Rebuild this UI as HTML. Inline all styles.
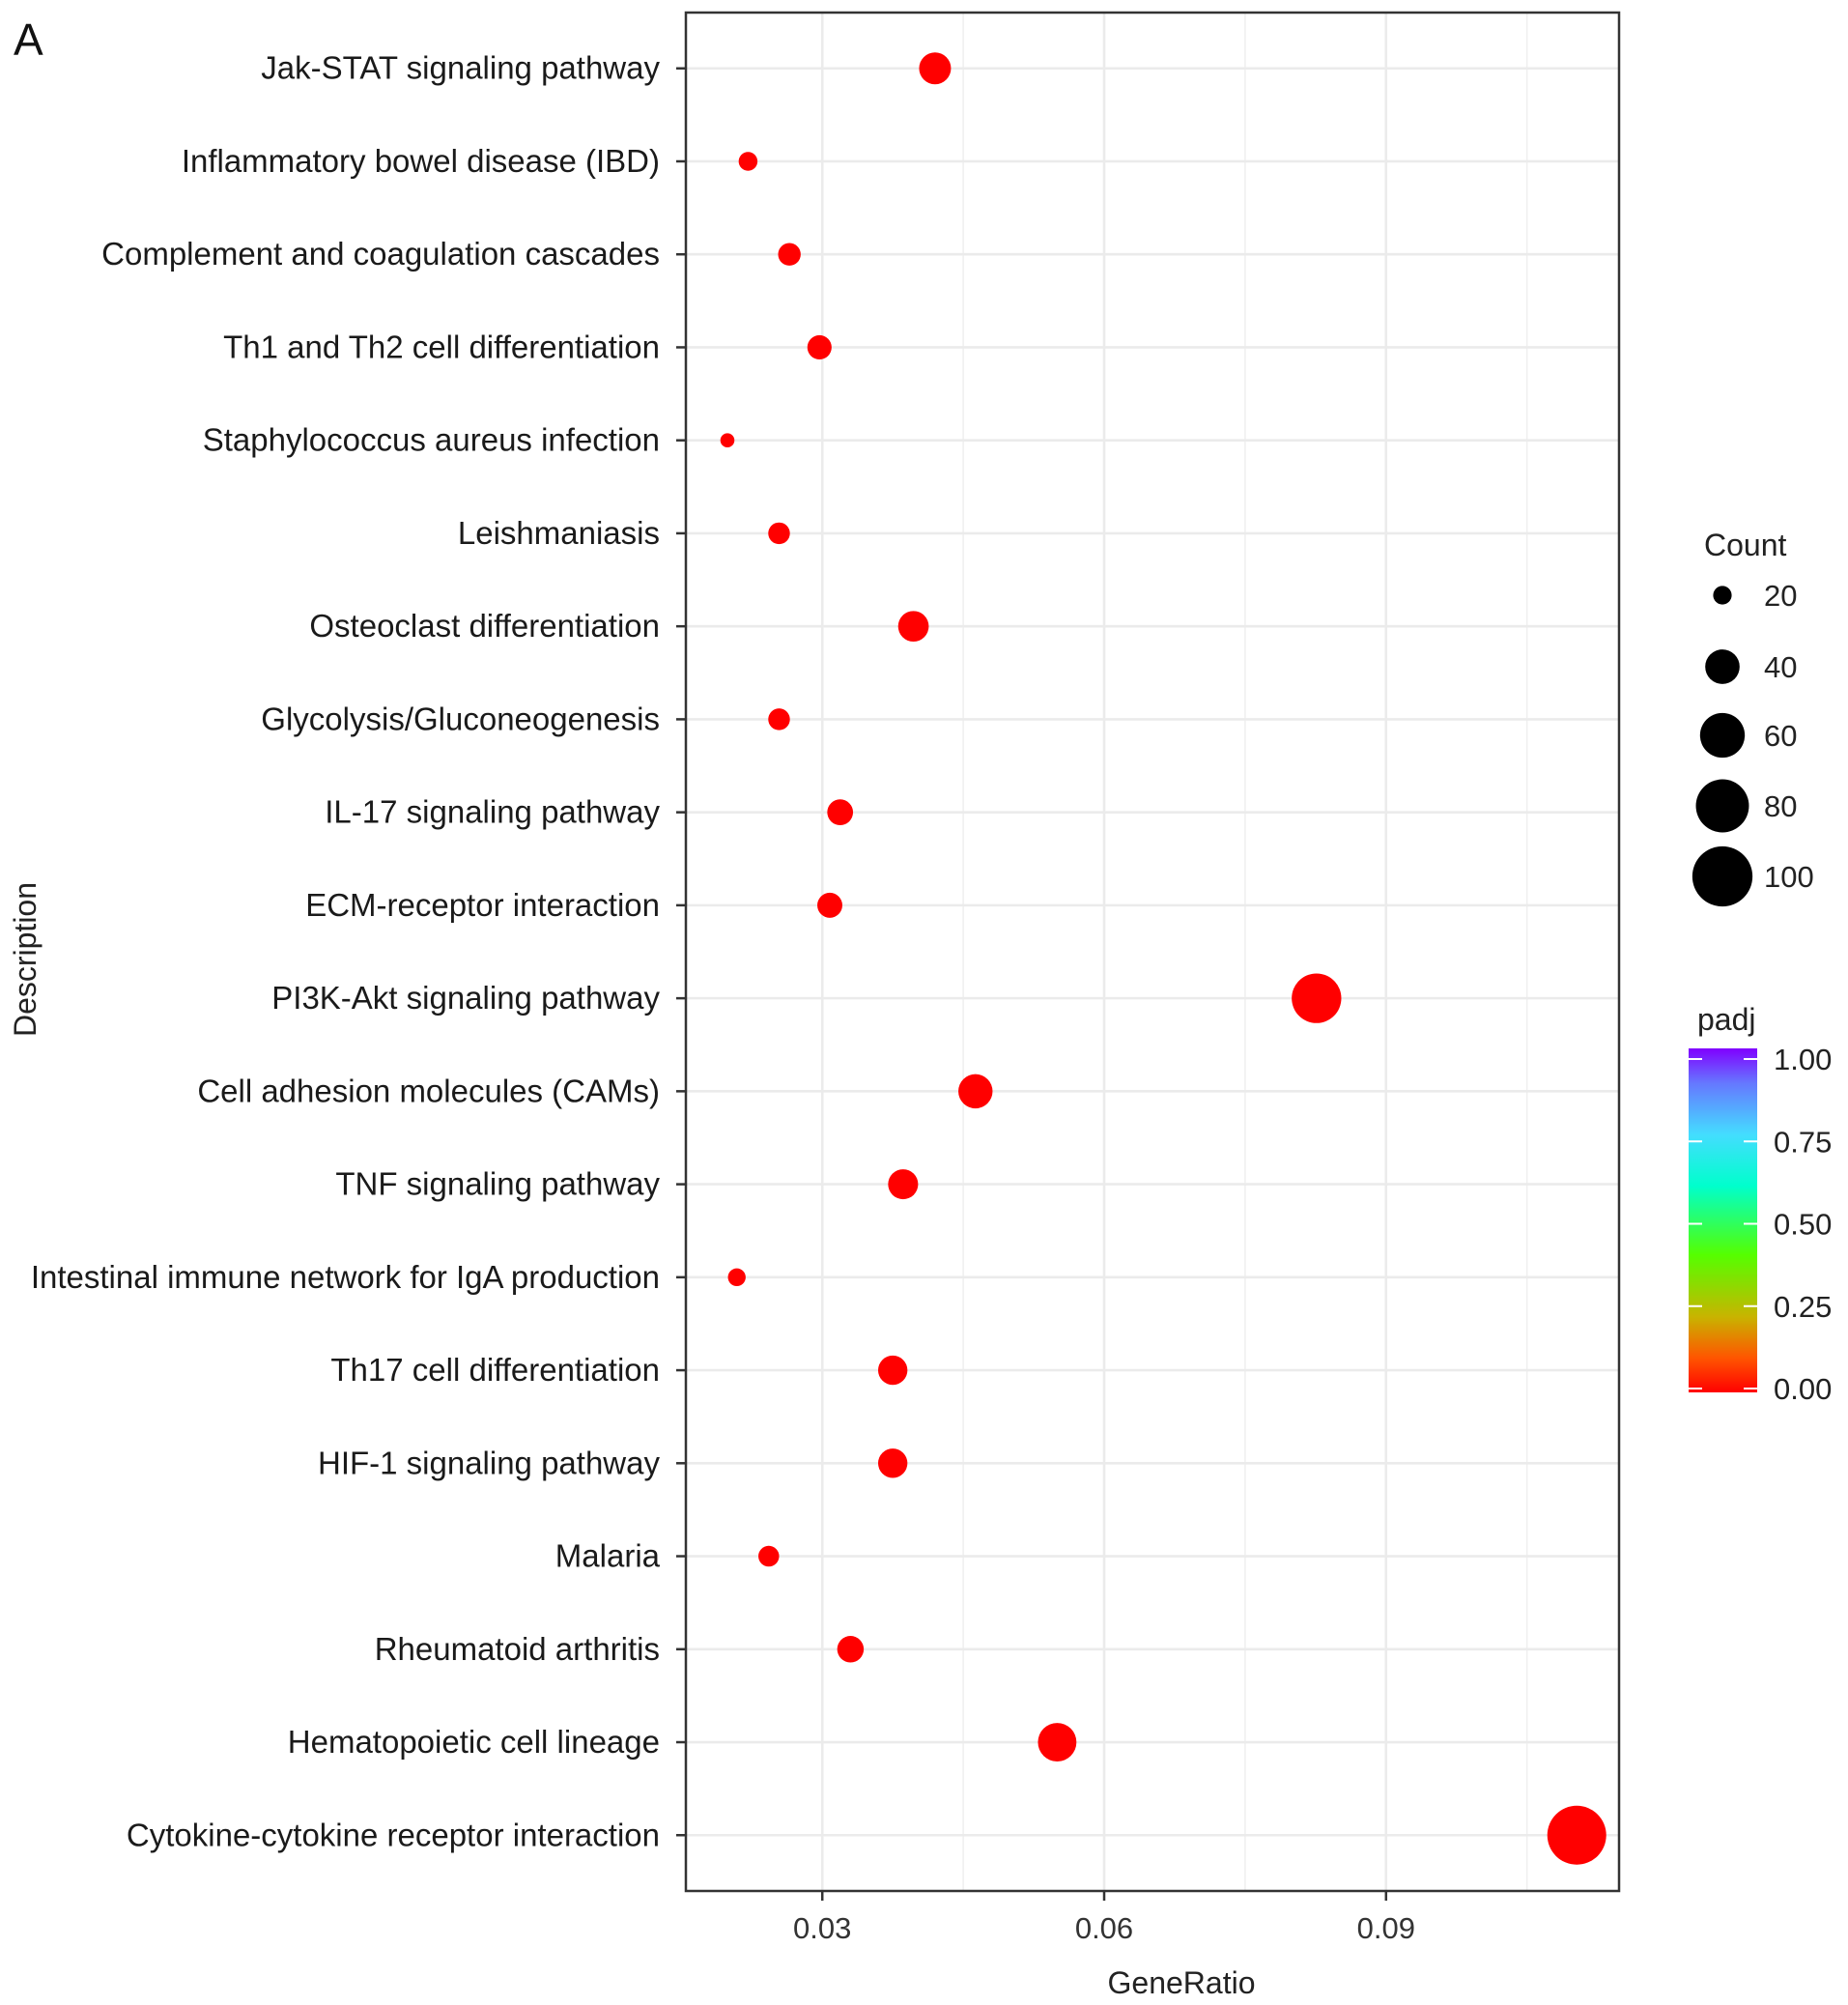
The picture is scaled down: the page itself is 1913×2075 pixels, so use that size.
<!DOCTYPE html>
<html><head><meta charset="utf-8"><style>
html,body{margin:0;padding:0;background:#fff;}
svg{display:block;font-family:"Liberation Sans",Arial,sans-serif;}
</style></head><body>
<svg id="chart" width="1913" height="2075" viewBox="0 0 1913 2075" xmlns="http://www.w3.org/2000/svg">
<defs>
<linearGradient id="rb" x1="0" y1="1" x2="0" y2="0">
<stop offset="0" stop-color="#ff0000"/><stop offset="0.1" stop-color="#ff5500"/>
<stop offset="0.22" stop-color="#c8b400"/><stop offset="0.4" stop-color="#55ff00"/>
<stop offset="0.6" stop-color="#00ffcc"/><stop offset="0.75" stop-color="#44ddff"/>
<stop offset="0.9" stop-color="#6677ff"/><stop offset="1" stop-color="#8000ff"/>
</linearGradient>
</defs>
<text x="14" y="57" font-size="46" fill="#111">A</text>
<g id="grid"></g><g id="ylab"></g><g id="xlab"></g><g id="dots"></g>
<rect x="710" y="13" width="966" height="1944" fill="none" stroke="#333" stroke-width="2.5"/>
<text x="1223" y="2063" font-size="32" text-anchor="middle" fill="#222">GeneRatio</text>
<text transform="translate(37,993) rotate(-90)" font-size="32" text-anchor="middle" fill="#222">Description</text>
<text x="1764" y="575" font-size="32" fill="#222">Count</text>
<g id="sizeleg"></g>
<text x="1757" y="1066" font-size="32" fill="#222">padj</text>
<rect x="1748" y="1085" width="71" height="356" fill="url(#rb)"/>
<g id="colleg"></g>
</svg>
<script>
const categories=["Jak-STAT signaling pathway","Inflammatory bowel disease (IBD)","Complement and coagulation cascades","Th1 and Th2 cell differentiation","Staphylococcus aureus infection","Leishmaniasis","Osteoclast differentiation","Glycolysis/Gluconeogenesis","IL-17 signaling pathway","ECM-receptor interaction","PI3K-Akt signaling pathway","Cell adhesion molecules (CAMs)","TNF signaling pathway","Intestinal immune network for IgA production","Th17 cell differentiation","HIF-1 signaling pathway","Malaria","Rheumatoid arthritis","Hematopoietic cell lineage","Cytokine-cytokine receptor interaction"];
const geneRatio=[0.0420,0.0221,0.0265,0.0297,0.0199,0.0254,0.0397,0.0254,0.0319,0.0308,0.0826,0.0463,0.0386,0.0209,0.0375,0.0375,0.0243,0.0330,0.0550,0.1103];
const counts=[39,22,26,28,18,25,37,25,30,29,76,43,36,21,35,35,24,31,51,102];
const padj=[0,0,0,0,0,0,0,0,0,0,0,0,0,0,0,0,0,0,0,0];
const xTicks=[0.03,0.06,0.09];
const xTickLabels=["0.03","0.06","0.09"];
const xMinor=[0.045,0.075,0.105];
const sizeBreaks=[20,40,60,80,100];
const colorBreaks=[0,0.25,0.5,0.75,1];
const colorLabels=["0.00","0.25","0.50","0.75","1.00"];

const NS="http://www.w3.org/2000/svg";
const L=710,R=1676,T=13,B=1957,xmin=0.01548,xmax=0.1148;
const xs=v=>L+(v-xmin)/(xmax-xmin)*(R-L);
const step=(B-T)/(categories.length-1+1.2);
const ys=i=>T+step*(0.6+i);
const rs=c=>Math.sqrt(Math.max(4,53+(c-18)*10.44));
function mk(tag,attrs,parent){const e=document.createElementNS(NS,tag);for(const k in attrs)e.setAttribute(k,attrs[k]);parent.appendChild(e);return e;}
const grid=document.getElementById('grid'),yl=document.getElementById('ylab'),xl=document.getElementById('xlab'),dots=document.getElementById('dots');
xMinor.forEach(v=>{const l=mk('line',{x1:xs(v),x2:xs(v),y1:T,y2:B,stroke:'#efefef','stroke-width':1.5},grid);

});
xTicks.forEach((v,i)=>{const l=mk('line',{x1:xs(v),x2:xs(v),y1:T,y2:B,stroke:'#ebebeb','stroke-width':2.6},grid);


const t=mk('line',{x1:xs(v),x2:xs(v),y1:B,y2:B+10,stroke:'#333','stroke-width':2.5},xl);


const tx=mk('text',{x:xs(v),y:2006,'font-size':31,'text-anchor':'middle',fill:'#333'},xl);tx.textContent=xTickLabels[i];

});
categories.forEach((c,i)=>{const y=ys(i);
const g=mk('line',{x1:L,x2:R,y1:y,y2:y,stroke:'#ebebeb','stroke-width':2.6},grid);


const t=mk('line',{x1:L-10,x2:L,y1:y,y2:y,stroke:'#333','stroke-width':2.5},yl);


const tx=mk('text',{x:683,y:y+11,'font-size':33,'text-anchor':'end',fill:'#1a1a1a'},yl);tx.textContent=c;


const d=mk('circle',{cx:xs(geneRatio[i]),cy:y,r:rs(counts[i]),fill:padj[i]<0.05?'#ff0000':'#ff5500'},dots);

});
const sl=document.getElementById('sizeleg');
const sy=[616,690,761,834,907];
sizeBreaks.forEach((b,i)=>{const c=mk('circle',{cx:1783,cy:sy[i],r:rs(b)+1,fill:'#000'},sl);


const t=mk('text',{x:1826,y:sy[i]+11,'font-size':31,fill:'#222'},sl);t.textContent=String(b);

});
const cl=document.getElementById('colleg');
const cy0=1437,cy1=1096;
colorBreaks.forEach((b,i)=>{const y=cy0+(cy1-cy0)*b;
const a=mk('line',{x1:1748,x2:1762,y1:y,y2:y,stroke:'#fff','stroke-width':2},cl);


const a2=mk('line',{x1:1805,x2:1819,y1:y,y2:y,stroke:'#fff','stroke-width':2},cl);


const t=mk('text',{x:1836,y:y+11,'font-size':31,fill:'#222'},cl);t.textContent=colorLabels[i];

});
</script>
</body></html>
